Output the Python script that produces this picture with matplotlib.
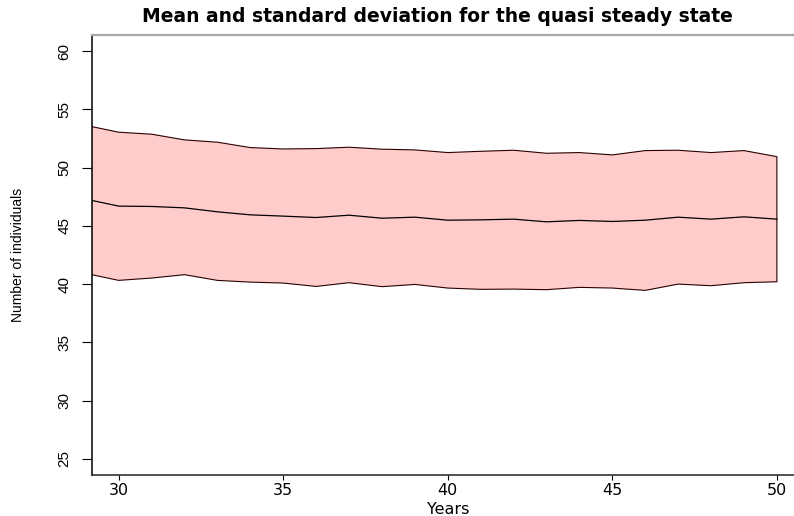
import numpy as np
import matplotlib
matplotlib.use("Agg")
import matplotlib.pyplot as plt

# quasi steady state summary per year
years = np.arange(29, 51)
mean_n = [47.30, 46.70, 46.67, 46.55, 46.21, 45.95, 45.84, 45.72, 45.92, 45.66, 45.75,
          45.49, 45.52, 45.58, 45.35, 45.47, 45.38, 45.49, 45.75, 45.58, 45.78, 45.58]
upper_n = [53.64, 53.05, 52.88, 52.39, 52.19, 51.73, 51.61, 51.64, 51.76, 51.59, 51.53,
           51.30, 51.41, 51.50, 51.24, 51.30, 51.10, 51.47, 51.50, 51.30, 51.47, 50.95]
lower_n = [40.92, 40.32, 40.52, 40.81, 40.32, 40.17, 40.09, 39.80, 40.12, 39.78, 39.97,
           39.66, 39.55, 39.57, 39.52, 39.72, 39.66, 39.46, 40.00, 39.86, 40.12, 40.20]

x_ticks = [30, 35, 40, 45, 50]
y_ticks = [25, 30, 35, 40, 45, 50, 55, 60]

W, H = 794, 516
fig = plt.figure(figsize=(W / 100, H / 100), dpi=100)
ax = fig.add_axes([92.3 / W, 1 - 475 / H, (W - 92.3) / W, (475 - 35) / H])

# band between mean - sd and mean + sd
poly_x = np.r_[years, years[::-1]]
poly_y = np.r_[upper_n, lower_n[::-1]]
ax.fill(poly_x, poly_y, facecolor="#ffcccc", edgecolor="#2a0000", linewidth=0.8)
ax.plot(years, mean_n, color="black", linewidth=0.9)

ax.set_xlim(29.2, 50.52)
ax.set_ylim(23.6, 61.4)

ax.spines["right"].set_visible(False)
ax.spines["top"].set_color("#a8a8a8")
ax.spines["top"].set_linewidth(1.6)
ax.spines["left"].set_linewidth(1.1)
ax.spines["bottom"].set_linewidth(1.1)
ax.spines["bottom"].set_color("#222222")

ax.set_xticks(x_ticks)
ax.set_yticks(y_ticks)
ax.tick_params(axis="x", length=3.6, width=0.8, pad=2.5, labelsize=11.5)
ax.tick_params(axis="y", length=7.2, width=0.8, pad=8.0, labelsize=11, labelrotation=90)
for lab in ax.get_xticklabels():
    lab.set_family("DejaVu Sans")
for lab in ax.get_yticklabels():
    lab.set_family("Liberation Sans")
    lab.set_va("center")

fig.text(437 / W, 1 - 16.5 / H, "Mean and standard deviation for the quasi steady state",
         ha="center", va="center", fontsize=13.5, fontweight="bold", family="DejaVu Sans")
fig.text(448 / W, 1 - 510 / H, "Years", ha="center", va="center",
         fontsize=11.5, family="DejaVu Sans")
fig.text(18 / W, 1 - 255 / H, "Number of individuals", ha="center", va="center",
         rotation=90, fontsize=10, family="Liberation Sans")

fig.savefig("out.png", dpi=100)
